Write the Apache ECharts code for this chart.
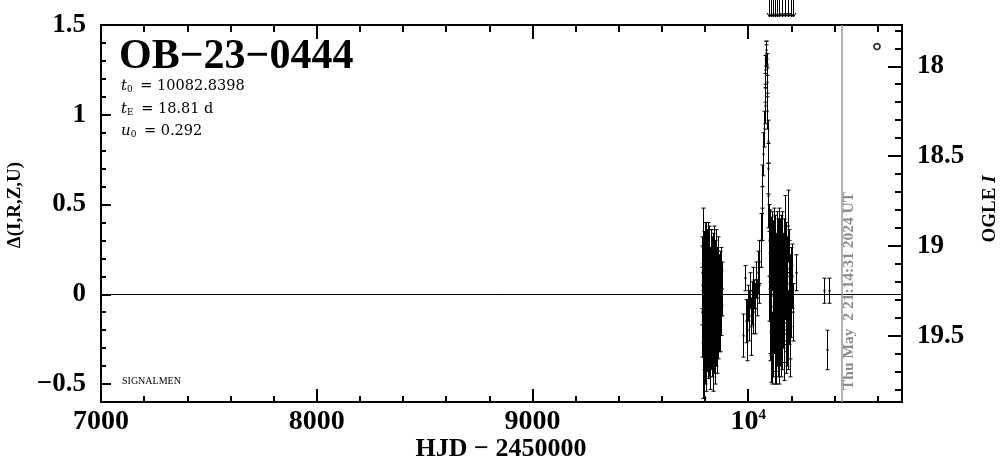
<!DOCTYPE html>
<html><head><meta charset="utf-8">
<script src="https://cdn.jsdelivr.net/npm/echarts@6/dist/echarts.min.js"></script>
<style>html,body{margin:0;padding:0;background:#fff}#c{width:1004px;height:459px}</style>
</head><body><div id="c"></div>
<script>
// ---- data: [HJD-2450000, delta, error] ----
const season2022 = [
 [9786,0.05,0.22],[9787,-0.10,0.25],[9788,0.12,0.20],[9789,-0.28,0.30],[9790,0.20,0.28],
 [9791,-0.05,0.22],[9792,0.08,0.18],[9793,-0.18,0.24],[9794,0.15,0.20],[9795,-0.32,0.26],
 [9796,0.02,0.30],[9797,-0.12,0.20],[9798,0.22,0.18],[9799,-0.06,0.24],[9800,0.10,0.22],
 [9802,-0.22,0.28],[9803,0.05,0.25],[9804,-0.30,0.24],[9806,0.18,0.22],[9807,-0.08,0.26],
 [9808,0.00,0.20],[9810,-0.15,0.28],[9811,0.12,0.24],[9812,-0.25,0.22],[9814,0.06,0.20],
 [9815,-0.10,0.30],[9816,0.20,0.20],[9818,-0.20,0.26],[9819,-0.02,0.22],[9820,0.14,0.24],
 [9822,-0.28,0.25],[9823,0.04,0.22],[9824,-0.12,0.20],[9826,0.10,0.26],[9827,-0.18,0.24],
 [9828,0.16,0.20],[9830,-0.05,0.28],[9831,-0.24,0.22],[9832,0.08,0.24],[9834,-0.14,0.20],
 [9835,0.12,0.22],[9836,-0.30,0.24],[9838,0.02,0.26],[9839,-0.08,0.22],[9840,0.18,0.20],
 [9842,-0.20,0.24],[9843,0.06,0.22],[9844,-0.12,0.26],[9846,0.10,0.20],[9847,-0.26,0.24],
 [9848,0.00,0.22],[9850,-0.10,0.20],[9851,0.14,0.22],[9852,-0.16,0.24],[9854,0.04,0.20],
 [9856,-0.22,0.22],[9857,0.08,0.18],[9858,-0.06,0.24],[9860,0.12,0.20],[9862,-0.14,0.22],
 [9864,0.02,0.20],[9866,-0.08,0.24],[9868,0.06,0.18],[9870,-0.12,0.20],[9873,0.10,0.16],
 [9876,-0.05,0.18],[9879,0.03,0.15]
];
const seasonPre = [
 [9977,-0.23,0.12],[9985,0.09,0.07],[9990,-0.15,0.12],[9994,-0.20,0.17],[9998,-0.05,0.10],
 [10003,-0.12,0.14],[10008,0.02,0.10],[10012,-0.18,0.16],[10016,-0.05,0.12],[10020,0.05,0.10],
 [10024,-0.10,0.12],[10028,0.00,0.08],[10032,-0.08,0.14],[10036,0.08,0.10],[10040,-0.02,0.10],
 [10044,0.12,0.12],[10048,0.05,0.10],[10052,0.18,0.12]
];
const eventPeak = [
 [10058,0.30,0.15],[10062,0.45,0.15],[10066,0.60,0.12],[10070,0.78,0.12],[10073,0.92,0.10],
 [10076,1.05,0.10],[10078,1.15,0.08],[10080,1.25,0.08],[10082,1.34,0.07],[10083,1.36,0.05],
 [10084,1.33,0.06],[10085,1.28,0.06],[10087,1.18,0.08],[10089,1.02,0.10],[10091,0.85,0.12],
 [10093,0.70,0.14]
];
const seasonPost = [
 [10094,0.55,0.18],[10096,0.30,0.20],[10098,0.10,0.25],[10099,-0.15,0.22],[10101,0.25,0.22],
 [10102,-0.05,0.28],[10104,0.18,0.25],[10105,-0.25,0.24],[10107,0.05,0.26],[10108,-0.12,0.22],
 [10110,0.24,0.22],[10111,-0.30,0.20],[10113,0.00,0.28],[10114,0.15,0.26],[10116,-0.20,0.26],
 [10117,0.08,0.22],[10119,-0.08,0.25],[10120,0.26,0.22],[10122,-0.28,0.22],[10123,0.02,0.24],
 [10125,-0.15,0.28],[10126,0.20,0.24],[10128,-0.05,0.20],[10129,-0.32,0.18],[10131,0.10,0.24],
 [10132,-0.18,0.22],[10134,0.24,0.22],[10135,-0.02,0.26],[10137,-0.24,0.22],[10138,0.06,0.24],
 [10140,0.18,0.24],[10141,-0.10,0.26],[10143,0.28,0.20],[10144,-0.26,0.24],[10146,0.04,0.22],
 [10147,-0.14,0.26],[10149,0.16,0.26],[10150,-0.06,0.22],[10152,0.22,0.22],[10153,-0.22,0.24],
 [10155,0.00,0.26],[10156,0.10,0.22],[10158,-0.18,0.24],[10159,0.24,0.22],[10161,-0.08,0.22],
 [10162,0.08,0.26],[10164,-0.26,0.22],[10165,0.18,0.24],[10167,-0.04,0.24],[10168,-0.16,0.22],
 [10170,0.12,0.26],[10171,0.30,0.25],[10173,-0.10,0.22],[10174,0.04,0.24],[10176,-0.22,0.22],
 [10177,0.18,0.22],[10179,-0.02,0.24],[10180,-0.14,0.26],[10182,0.10,0.22],[10184,0.38,0.20],
 [10185,-0.20,0.22],[10187,0.06,0.24],[10188,-0.08,0.20],[10190,0.14,0.22],[10192,-0.12,0.24],
 [10194,0.02,0.20],[10196,-0.24,0.22],[10198,0.08,0.18],[10200,-0.04,0.20],[10203,0.10,0.18],
 [10206,-0.10,0.16],[10220,0.12,0.10]
];
const season2024 = [[10353,0.02,0.07],[10366,-0.31,0.11],[10376,0.02,0.07]];
const offscaleHJD = [10097,10106,10116,10125,10134,10143,10157,10171,10185,10199,10208];
const legendDot = [[10597,1.38]];
const nowHJD = 10433;

const xMajor = [7000,8000,9000,10000];
const xMinor = [7200,7400,7600,7800,8200,8400,8600,8800,9200,9400,9600,9800,10200,10400,10600];
const yMajor = [-0.5,0,0.5,1,1.5];
const yMinor = [-0.4,-0.3,-0.2,-0.1,0.1,0.2,0.3,0.4,0.6,0.7,0.8,0.9,1.1,1.2,1.3,1.4];
const iMajor = [18,18.5,19,19.5];
const iMinor = [17.8,17.9,18.1,18.2,18.3,18.4,18.6,18.7,18.8,18.9,19.1,19.2,19.3,19.4,19.6,19.7,19.8];
const I0 = 19.27;
const xRange = [7000,10713];
const yRange = [-0.6,1.5];

const FONT = 'Liberation Serif';
const allPoints = season2022.concat(seasonPre, eventPeak, seasonPost, season2024);

function errRender(params, api){
  const x = api.value(0), y = api.value(1), e = api.value(2);
  const t = api.coord([x, y+e]), b = api.coord([x, y-e]), m = api.coord([x, y]);
  const px = Math.round(t[0]) + 0.5;
  const st = {stroke:'#000', lineWidth:1};
  return {type:'group', children:[
    {type:'line', shape:{x1:px,y1:t[1],x2:px,y2:b[1]}, style:st},
    {type:'line', shape:{x1:px-2,y1:t[1],x2:px+2,y2:t[1]}, style:st},
    {type:'line', shape:{x1:px-2,y1:b[1],x2:px+2,y2:b[1]}, style:st},
    {type:'rect', shape:{x:px-1,y:m[1]-1,width:2,height:2}, style:{fill:'#000'}}
  ]};
}
function arrowRender(params, api){
  const c = api.coord([api.value(0), yRange[1]]);
  const px = Math.round(c[0]) + 0.5, top = c[1];
  return {type:'group', children:[
    {type:'line', shape:{x1:px,y1:top-25,x2:px,y2:top-8}, style:{stroke:'#000',lineWidth:1}},
    {type:'polyline', shape:{points:[[px-2.5,top-12],[px,top-8],[px+2.5,top-12]]}, style:{stroke:'#000',lineWidth:1,fill:null}}
  ]};
}

function xAx(pos, ticks, len, labels){
  return {type:'value', position:pos, min:xRange[0], max:xRange[1], gridIndex:0,
    axisLine:{show:false,onZero:false}, splitLine:{show:false},
    axisTick:{show:true, inside:true, length:len, customValues:ticks, lineStyle:{color:'#000',width:2}},
    axisLabel:{show:labels, customValues:ticks, margin:6, color:'#000', fontFamily:FONT, fontWeight:'bold', fontSize:28,
      formatter:v=> v===10000 ? '10{sup|4}' : String(v),
      rich:{sup:{fontSize:15, fontFamily:FONT, fontWeight:'bold', color:'#000', padding:[0,0,13,0]}}}};
}
function yAx(pos, ticks, len, labels, mn, mx, inv, fmt){
  return {type:'value', position:pos, min:mn, max:mx, inverse:inv,
    axisLine:{show:false,onZero:false}, splitLine:{show:false},
    axisTick:{show:true, inside:true, length:len, customValues:ticks, lineStyle:{color:'#000',width:2}},
    axisLabel:{show:labels, customValues:ticks, margin:15, color:'#000', fontFamily:FONT, fontWeight:'bold', fontSize:27, formatter:fmt}};
}
const richSub = {i:{font:'italic 15px "DejaVu Serif"'}, s:{font:'9px "DejaVu Serif"', padding:[0,3,0,0], verticalAlign:'bottom'}};

const chart = echarts.init(document.getElementById('c'), null, {renderer:'canvas'});
chart.setOption({
  animation:false,
  backgroundColor:'#fff',
  grid:{left:101, top:25, width:801, height:377, show:true, borderColor:'#000', borderWidth:2, backgroundColor:'transparent'},
  xAxis:[
    xAx('bottom', xMajor, 13, true),
    xAx('bottom', xMinor, 6, false),
    xAx('top', xMajor, 14, false),
    xAx('top', xMinor, 7, false)
  ],
  yAxis:[
    yAx('left', yMajor, 10, true, yRange[0], yRange[1], false, v=> v<0 ? '\u2212'+Math.abs(v) : String(v)),
    yAx('left', yMinor, 5, false, yRange[0], yRange[1], false),
    yAx('right', iMajor, 14, true, I0-yRange[1], I0-yRange[0], true, v=>String(v)),
    yAx('right', iMinor, 7, false, I0-yRange[1], I0-yRange[0], true)
  ],
  series:[
    {type:'line', data:[], xAxisIndex:0, yAxisIndex:0, silent:true,
      markLine:{silent:true, symbol:'none', label:{show:false}, animation:false,
        data:[{yAxis:0, lineStyle:{color:'#000',width:1,type:'solid'}},
              {xAxis:nowHJD, lineStyle:{color:'#999',width:1.5,type:'solid'}}]}},
    {type:'custom', xAxisIndex:0, yAxisIndex:0, clip:true, renderItem:errRender, data:allPoints},
    {type:'custom', xAxisIndex:0, yAxisIndex:0, clip:false, renderItem:arrowRender, data:offscaleHJD.map(h=>[h])},
    {type:'scatter', xAxisIndex:0, yAxisIndex:0, data:legendDot, symbol:'circle', symbolSize:6,
      itemStyle:{color:'#fff', borderColor:'#000', borderWidth:1.8}}
  ],
  graphic:[
    {type:'text', left:119, top:36, style:{text:'OB\u221223\u22120444', font:'bold 42px "Liberation Serif"', fill:'#000'}},
    {type:'text', left:121, top:79, style:{text:'{i|t}{s|0} = 10082.8398', fill:'#000', rich:richSub, font:'14.5px "DejaVu Serif"'}},
    {type:'text', left:121, top:102, style:{text:'{i|t}{s|E} = 18.81 d', fill:'#000', rich:richSub, font:'14.5px "DejaVu Serif"'}},
    {type:'text', left:121, top:124, style:{text:'{i|u}{s|0} = 0.292', fill:'#000', rich:richSub, font:'14.5px "DejaVu Serif"'}},
    {type:'text', left:122, top:376, style:{text:'SIGNALMEN', font:'10px "Liberation Serif"', fill:'#000'}},
    {type:'text', x:501, y:449, style:{text:'HJD \u2212 2450000', font:'bold 26px "Liberation Serif"', fill:'#000', align:'center', verticalAlign:'middle'}},
    {type:'text', x:15, y:205, rotation:Math.PI/2, style:{text:'\u0394(I,R,Z,U)', font:'bold 19px "Liberation Serif"', fill:'#000', align:'center', verticalAlign:'middle'}},
    {type:'text', x:990, y:209, rotation:Math.PI/2, style:{text:'OGLE {i|I}', font:'bold 19px "Liberation Serif"', fill:'#000', align:'center', verticalAlign:'middle',
      rich:{i:{font:'bold italic 19px "Liberation Serif"'}}}},
    {type:'text', x:849, y:390, rotation:Math.PI/2, style:{text:'Thu May  2 21:14:31 2024 UT', font:'bold 15.5px "Liberation Serif"', fill:'#8c8c8c', align:'left', verticalAlign:'middle'}}
  ]
});
</script></body></html>
